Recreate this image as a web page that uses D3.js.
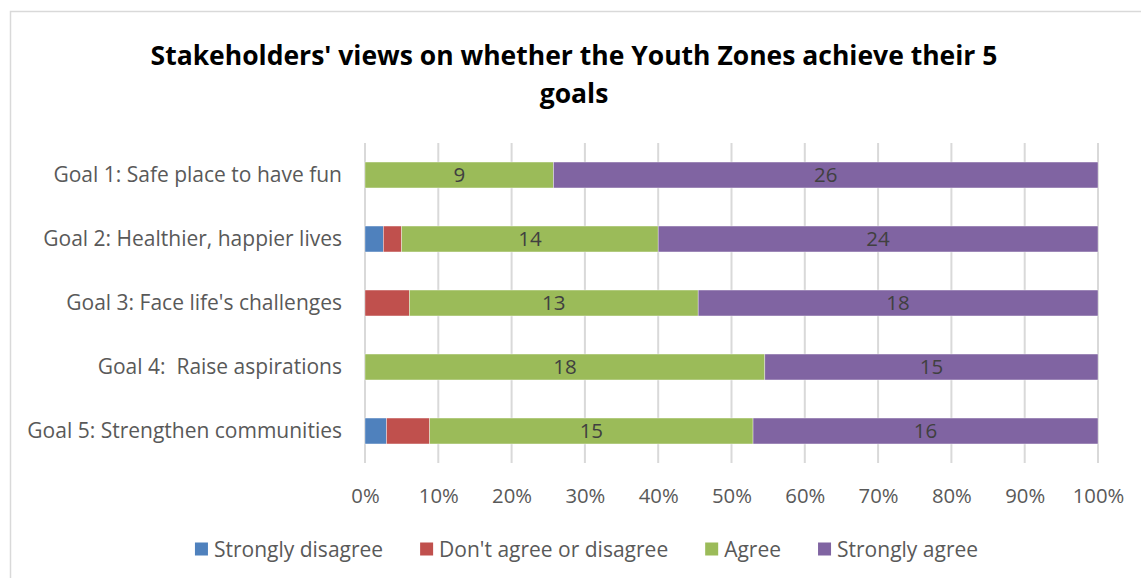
<!DOCTYPE html>
<html>
<head>
<meta charset="utf-8">
<script src="https://cdn.jsdelivr.net/npm/d3@7"></script>
<style>
  html, body { margin: 0; padding: 0; background: #fff; }
  svg { display: block; }
  text { font-family: "Open Sans", Lato, sans-serif; white-space: pre; }
</style>
</head>
<body>
<svg id="chart" width="1141" height="578"></svg>
<script>
// Survey responses per goal (counts of stakeholders)
const categories = [
  "Goal 1: Safe place to have fun",
  "Goal 2: Healthier, happier lives",
  "Goal 3: Face life's challenges",
  "Goal 4:  Raise aspirations",
  "Goal 5: Strengthen communities"
];
const seriesNames = ["Strongly disagree", "Don't agree or disagree", "Agree", "Strongly agree"];
const stronglyDisagree = [0, 1, 0, 0, 1];
const neutral          = [0, 1, 2, 0, 2];
const agree            = [9, 14, 13, 18, 15];
const stronglyAgree    = [26, 24, 18, 15, 16];
const labelledSeries   = ["Agree", "Strongly agree"];
const tickValues = [0, 0.1, 0.2, 0.3, 0.4, 0.5, 0.6, 0.7, 0.8, 0.9, 1.0];
const colors = ["#4F81BD", "#C0504D", "#9BBB59", "#8064A2"];

const FONT = "'Open Sans', Lato, sans-serif";

const rows = categories.map((c, i) => ({
  category: c,
  "Strongly disagree": stronglyDisagree[i],
  "Don't agree or disagree": neutral[i],
  "Agree": agree[i],
  "Strongly agree": stronglyAgree[i]
}));

const svg = d3.select("#chart");

// chart frame
svg.append("rect")
  .attr("x", 10.5).attr("y", 11.5)
  .attr("width", 1200).attr("height", 600)
  .attr("fill", "none").attr("stroke", "#d9d9d9").attr("stroke-width", 1.5);

// title
const title = svg.append("text")
  .attr("text-anchor", "middle")
  .attr("font-weight", "bold")
  .attr("font-size", 26.5)
  .attr("fill", "#000");
title.append("tspan").attr("x", 574).attr("y", 65)
  .text("Stakeholders' views on whether the Youth Zones achieve their 5");
title.append("tspan").attr("x", 574).attr("y", 103).text("goals");

const plot = { left: 365, right: 1098, top: 143, bottom: 463 };

const x = d3.scaleLinear().domain([0, 1]).range([plot.left, plot.right]);
const y = d3.scaleBand().domain(categories)
  .range([plot.top, plot.bottom])
  .paddingInner(0.595).paddingOuter(0.2975);
const color = d3.scaleOrdinal().domain(seriesNames).range(colors);

// gridlines
svg.append("g")
  .selectAll("line")
  .data(tickValues)
  .join("line")
  .attr("x1", d => x(d)).attr("x2", d => x(d))
  .attr("y1", plot.top).attr("y2", plot.bottom)
  .attr("stroke", "#d9d9d9").attr("stroke-width", 2);

// x axis tick labels
const xAxis = d3.axisBottom(x)
  .tickValues(tickValues)
  .tickFormat(d3.format(".0%"))
  .tickSize(0).tickPadding(0);
const gx = svg.append("g")
  .attr("transform", `translate(0,${plot.bottom})`)
  .call(xAxis);
gx.select(".domain").remove();
gx.selectAll("text")
  .attr("dy", null).attr("y", 40)
  .attr("font-family", FONT)
  .attr("font-size", 20.3).attr("fill", "#595959");

// y axis category labels
const yAxis = d3.axisLeft(y).tickSize(0).tickPadding(0);
const gy = svg.append("g")
  .attr("transform", `translate(${plot.left - 23},0)`)
  .call(yAxis);
gy.select(".domain").remove();
gy.selectAll("text")
  .attr("font-family", FONT)
  .attr("font-size", 21).attr("fill", "#595959")
  .attr("dy", "0.35em");

// normalised stack
const stack = d3.stack().keys(seriesNames).offset(d3.stackOffsetExpand);
const layers = stack(rows);

const layerG = svg.append("g")
  .selectAll("g")
  .data(layers)
  .join("g")
  .attr("fill", d => color(d.key));

layerG.selectAll("rect")
  .data(d => d)
  .join("rect")
  .attr("x", d => x(d[0]))
  .attr("width", d => Math.max(0, x(d[1]) - x(d[0])))
  .attr("y", d => y(d.data.category))
  .attr("height", y.bandwidth())
  .attr("stroke", "#fff").attr("stroke-width", 0.6).attr("stroke-opacity", 0.6);

// value labels
svg.append("g")
  .selectAll("g")
  .data(layers.filter(l => labelledSeries.includes(l.key)))
  .join("g")
  .selectAll("text")
  .data(l => l.map(d => ({ d, key: l.key })))
  .join("text")
  .filter(o => o.d.data[o.key] > 0)
  .attr("x", o => (x(o.d[0]) + x(o.d[1])) / 2)
  .attr("y", o => y(o.d.data.category) + y.bandwidth() / 2)
  .attr("dy", "0.36em")
  .attr("text-anchor", "middle")
  .attr("font-size", 20.5)
  .attr("fill", "#404040")
  .text(o => o.d.data[o.key]);

// legend
const legend = svg.append("g").attr("transform", "translate(0,549)");
let cursor = 0;
const items = legend.selectAll("g")
  .data(seriesNames)
  .join("g");
items.append("rect")
  .attr("width", 13).attr("height", 13)
  .attr("y", -6.5)
  .attr("fill", d => color(d));
items.append("text")
  .attr("x", 19)
  .attr("dy", "0.36em")
  .attr("font-size", 21)
  .attr("fill", "#595959")
  .text(d => d);
items.each(function () {
  const g = d3.select(this);
  const w = 19 + g.select("text").node().getComputedTextLength();
  g.attr("transform", `translate(${cursor},0)`);
  cursor += w + 37;
});
const legendWidth = cursor - 37;
legend.attr("transform", `translate(${586.5 - legendWidth / 2},549)`);
</script>
</body>
</html>
